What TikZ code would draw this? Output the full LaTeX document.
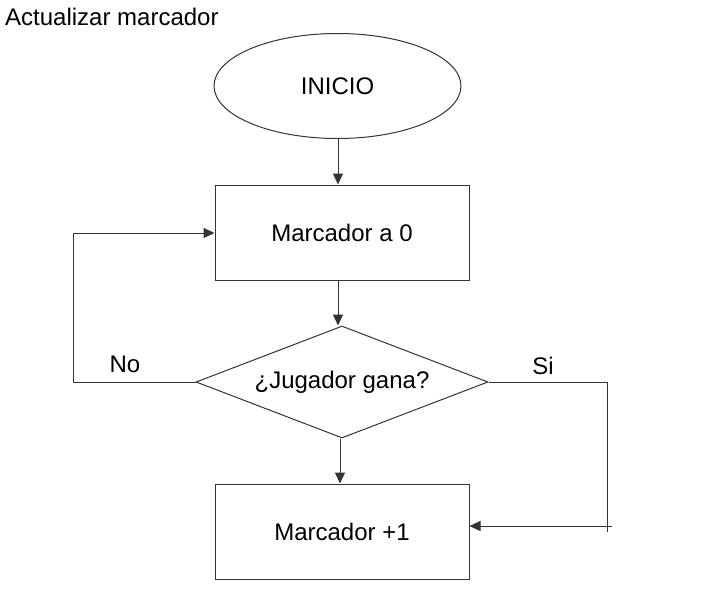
\documentclass[tikz,border=0pt]{standalone}
\usepackage{fontspec}
\setmainfont{Liberation Sans}
\usetikzlibrary{shapes.geometric,arrows.meta}
\begin{document}
\begin{tikzpicture}[x=1pt,y=-1pt,
  every node/.style={font=\fontsize{24}{28}\selectfont, text=black},
  ln/.style={draw=black!80, line width=1pt},
  arr/.style={ln, -{Triangle[length=11pt,width=10pt]}},
  boxnode/.style={ln, rectangle, minimum width=254pt, minimum height=95pt, inner sep=0pt},
  startnode/.style={ln, ellipse, minimum width=247pt, minimum height=105pt, inner sep=0pt},
  decnode/.style={ln, diamond, aspect=2.607, minimum width=292pt, minimum height=112pt, inner sep=0pt},
  lbl/.style={inner sep=0pt}]
\useasboundingbox (0,0) rectangle (710,600);
\node[lbl, anchor=west] (title) at (5,17) {Actualizar marcador};
\node[startnode] (start) at (337.5,86) {INICIO};
\node[boxnode] (box1) at (342,232.5) {Marcador a 0};
\node[decnode] (dec) at (342,382) {¿Jugador gana?};
\node[boxnode] (box2) at (342,531.5) {Marcador +1};
\node[lbl] (no) at (125,364) {No};
\node[lbl] (si) at (543,366) {Si};
% vertical arrows
\coordinate (a1) at (338,0);
\draw[arr] (start.south -| a1) -- (box1.north -| a1);
\draw[arr] (box1.south -| a1) -- (dec.north -| a1);
\coordinate (a2) at (340,0);
\draw[arr] (dec.south -| a2) -- (box2.north -| a2);
% No branch
\coordinate (nocorner) at (73,382);
\coordinate (notop) at (73,233);
\draw[ln] (dec.west) -- (nocorner) -- (notop);
\draw[arr] (notop) -- (box1.west |- notop);
% Si branch
\coordinate (sicorner) at (607,382);
\coordinate (sibottom) at (607,532);
\coordinate (siright) at (612,526);
\draw[ln] (dec.east) -- (sicorner) -- (sibottom);
\draw[arr] (siright) -- (box2.east |- siright);
\end{tikzpicture}
\end{document}
